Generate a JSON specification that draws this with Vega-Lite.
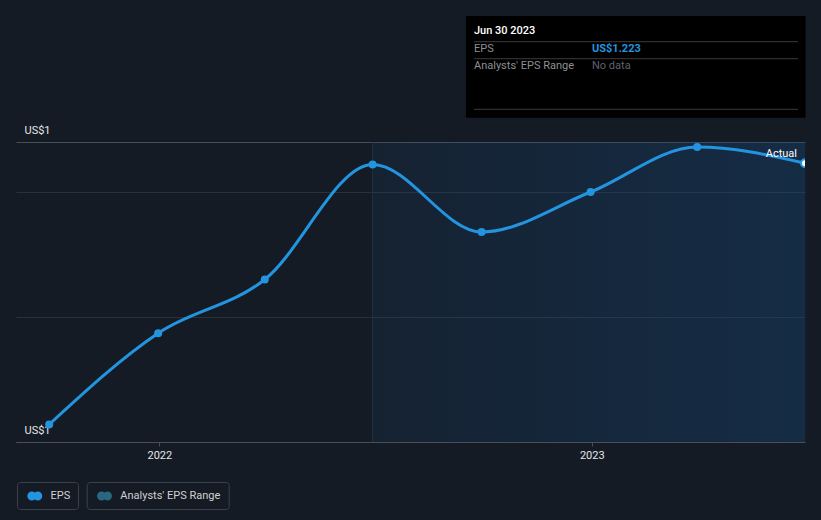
{
  "$schema": "https://vega.github.io/schema/vega-lite/v6.json",
  "width": 789,
  "height": 300,
  "autosize": {"type": "none"},
  "padding": {"left": 16, "top": 142, "right": 16, "bottom": 78},
  "background": "#151b24",
  "config": {
    "view": {"stroke": null, "fill": "#11161e"},
    "font": "Roboto"
  },
  "datasets": {
    "eps": [
      {"date": "2021-09-30", "eps": 1.014, "series": "EPS"},
      {"date": "2021-12-31", "eps": 1.087, "series": "EPS"},
      {"date": "2022-03-31", "eps": 1.130, "series": "EPS"},
      {"date": "2022-06-30", "eps": 1.222, "series": "EPS"},
      {"date": "2022-09-30", "eps": 1.168, "series": "EPS"},
      {"date": "2022-12-31", "eps": 1.200, "series": "EPS"},
      {"date": "2023-03-31", "eps": 1.236, "series": "EPS"},
      {"date": "2023-06-30", "eps": 1.223, "series": "EPS", "label": "Actual"}
    ],
    "panel": [
      {"row": 0, "col": 0, "text": "Jun 30 2023", "kind": "head"},
      {"row": 1, "col": 0, "text": "EPS", "kind": "label"},
      {"row": 1, "col": 1, "text": "US$1.223", "kind": "value"},
      {"row": 2, "col": 0, "text": "Analysts' EPS Range", "kind": "label"},
      {"row": 2, "col": 1, "text": "No data", "kind": "none"}
    ],
    "rangeSeries": [{"series": "Analysts' EPS Range"}],
    "period": [{"start": "2022-06-30", "end": "2023-06-30"}]
  },
  "layer": [
    {
      "layer": [
        {
          "data": {"name": "period"},
          "mark": {
            "type": "rect",
            "color": {
              "gradient": "linear", "x1": 0, "y1": 0, "x2": 1, "y2": 0,
              "stops": [{"offset": 0, "color": "rgba(21,70,120,0.16)"}, {"offset": 1, "color": "rgba(21,70,120,0.40)"}]
            }
          },
          "encoding": {
            "x": {"field": "start", "type": "temporal"},
            "x2": {"field": "end"}
          }
        },
        {
          "data": {"name": "period"},
          "mark": {"type": "rule", "color": "#1d3246", "strokeWidth": 1},
          "encoding": {"x": {"field": "start", "type": "temporal"}}
        },
        {
          "data": {"name": "eps"},
          "mark": {"type": "line", "interpolate": "monotone", "strokeWidth": 3, "color": "#2394df"},
          "encoding": {
            "x": {
              "field": "date", "type": "temporal",
              "scale": {"type": "utc", "domain": [{"year": 2021, "month": 9, "date": 2, "utc": true}, {"year": 2023, "month": 6, "date": 30, "utc": true}]},
              "axis": {
                "title": null, "tickCount": {"interval": "year", "step": 1}, "format": "%Y", "formatType": "utc",
                "grid": false, "domainColor": "#4a4f57", "tickColor": "#4a4f57", "tickSize": 4,
                "labelColor": "#e6e6e6", "labelFontSize": 11, "labelFont": "Roboto", "labelPadding": 3, "labelFlush": false
              }
            },
            "y": {
              "field": "eps", "type": "quantitative",
              "scale": {"domain": [1.0, 1.24], "nice": false, "zero": false},
              "axis": {
                "title": null, "values": [1.0, 1.1, 1.2, 1.24], "domain": false, "ticks": false, "tickSize": 0,
                "labelExpr": "datum.value < 1.01 || datum.value > 1.23 ? 'US$1' : ''",
                "labelAlign": "left", "labelPadding": -8, "labelBaseline": "bottom", "labelOffset": -7,
                "labelColor": "#e6e6e6", "labelFontSize": 11, "labelFont": "Roboto", "labelFlush": false, "labelOverlap": false, "labelBound": false,
                "gridColor": {"condition": {"test": "datum.value > 1.23 || datum.value < 1.01", "value": "#4a4f57"}, "value": "#2b313a"}
              }
            }
          }
        },
        {
          "data": {"name": "eps"},
          "mark": {"type": "circle", "size": 64, "opacity": 1, "clip": true},
          "encoding": {
            "x": {"field": "date", "type": "temporal"},
            "y": {"field": "eps", "type": "quantitative"},
            "color": {
              "field": "series", "type": "nominal",
              "scale": {"domain": ["EPS"], "range": ["#2394df"]},
              "legend": {
                "title": null, "orient": "none", "legendX": 1, "legendY": 340,
                "strokeColor": "#3b414a", "cornerRadius": 3, "padding": 7.5, "symbolOffset": 3.8,
                "symbolType": "M -1.15 0 A 0.69 0.69 0 1 0 0.23 0 A 0.69 0.69 0 1 0 -1.15 0 Z M -0.23 0 A 0.69 0.69 0 1 0 1.15 0 A 0.69 0.69 0 1 0 -0.23 0 Z",
                "symbolSize": 169, "symbolStrokeWidth": 0, "symbolOpacity": 1,
                "labelOffset": 9.3, "labelColor": "#d0d0d0", "labelFontSize": 11, "labelFont": "Roboto",
                "encode": {"symbols": {"update": {
                  "fill": {"value": {"gradient": "linear", "x1": 0, "y1": 0, "x2": 1, "y2": 0, "stops": [{"offset": 0, "color": "#2394df"}, {"offset": 0.4, "color": "#2394df"}, {"offset": 0.4, "color": "#6fe3d8"}, {"offset": 1, "color": "#6fe3d8"}]}},
                  "stroke": {"value": "transparent"}
                }}}
              }
            }
          }
        },
        {
          "data": {"name": "eps"},
          "transform": [{"filter": "isValid(datum.label)"}],
          "mark": {"type": "point", "filled": true, "size": 64, "fill": "#ffffff", "stroke": "#2394df", "strokeWidth": 2, "opacity": 1, "clip": true},
          "encoding": {
            "x": {"field": "date", "type": "temporal"},
            "y": {"field": "eps", "type": "quantitative"}
          }
        },
        {
          "data": {"name": "eps"},
          "transform": [{"filter": "isValid(datum.label)"}],
          "mark": {"type": "text", "align": "right", "baseline": "middle", "dx": -8, "dy": -9, "color": "#ffffff", "fontSize": 11, "font": "Roboto"},
          "encoding": {
            "x": {"field": "date", "type": "temporal"},
            "y": {"field": "eps", "type": "quantitative"},
            "text": {"field": "label"}
          }
        },
        {
          "data": {"name": "rangeSeries"},
          "mark": {"type": "point", "filled": true, "opacity": 0},
          "encoding": {
            "fill": {
              "field": "series", "type": "nominal",
              "scale": {"domain": ["Analysts' EPS Range"], "range": ["#2b6680"]},
              "legend": {
                "title": null, "orient": "none", "legendX": 70.7, "legendY": 340,
                "strokeColor": "#3b414a", "cornerRadius": 3, "padding": 7.5, "symbolOffset": 3.8,
                "symbolType": "M -1.15 0 A 0.69 0.69 0 1 0 0.23 0 A 0.69 0.69 0 1 0 -1.15 0 Z M -0.23 0 A 0.69 0.69 0 1 0 1.15 0 A 0.69 0.69 0 1 0 -0.23 0 Z",
                "symbolSize": 169, "symbolStrokeWidth": 0, "symbolOpacity": 1,
                "labelOffset": 9.3, "labelColor": "#d0d0d0", "labelFontSize": 11, "labelFont": "Roboto",
                "encode": {"symbols": {"update": {
                  "fill": {"value": {"gradient": "linear", "x1": 0, "y1": 0, "x2": 1, "y2": 0, "stops": [{"offset": 0, "color": "#21577f"}, {"offset": 0.4, "color": "#21577f"}, {"offset": 0.4, "color": "#3b7f7e"}, {"offset": 1, "color": "#3b7f7e"}]}},
                  "stroke": {"value": "transparent"}
                }}}
              }
            }
          }
        }
      ]
    },
    {
      "layer": [
        {
          "data": {"values": [{}]},
          "mark": {"type": "rect", "color": "#000000"},
          "encoding": {
            "x": {"datum": -0.068, "type": "quantitative", "scale": {"domain": [0, 1], "range": [458, 576], "nice": false, "zero": false}, "axis": null},
            "x2": {"datum": 2.81},
            "y": {"datum": -0.874, "type": "quantitative", "scale": {"domain": [0, 1], "range": [-110.7, -93.2], "nice": false, "zero": false}, "axis": null},
            "y2": {"datum": 4.94}
          }
        },
        {
          "data": {"values": [{}]},
          "mark": {"type": "rule", "color": "#3a3a3a", "strokeWidth": 1},
          "encoding": {
            "x": {"datum": 0, "type": "quantitative", "axis": null},
            "x2": {"datum": 2.746},
            "y": {"datum": 0.594, "type": "quantitative", "axis": null}
          }
        },
        {
          "data": {"values": [{}]},
          "mark": {"type": "rule", "color": "#3a3a3a", "strokeWidth": 1},
          "encoding": {
            "x": {"datum": 0, "type": "quantitative", "axis": null},
            "x2": {"datum": 2.746},
            "y": {"datum": 1.566, "type": "quantitative", "axis": null}
          }
        },
        {
          "data": {"values": [{}]},
          "mark": {"type": "rule", "color": "#3a3a3a", "strokeWidth": 1},
          "encoding": {
            "x": {"datum": 0, "type": "quantitative", "axis": null},
            "x2": {"datum": 2.746},
            "y": {"datum": 4.457, "type": "quantitative", "axis": null}
          }
        },
        {
          "data": {"name": "panel"},
          "transform": [{"filter": "datum.kind == 'head'"}],
          "mark": {"type": "text", "align": "left", "baseline": "middle", "color": "#ffffff", "fontSize": 11, "fontWeight": 500},
          "encoding": {
            "x": {"field": "col", "type": "quantitative", "axis": null},
            "y": {"field": "row", "type": "quantitative", "axis": null},
            "text": {"field": "text"}
          }
        },
        {
          "data": {"name": "panel"},
          "transform": [{"filter": "datum.kind == 'label'"}],
          "mark": {"type": "text", "align": "left", "baseline": "middle", "color": "#8c8f94", "fontSize": 11},
          "encoding": {
            "x": {"field": "col", "type": "quantitative", "axis": null},
            "y": {"field": "row", "type": "quantitative", "axis": null},
            "text": {"field": "text"}
          }
        },
        {
          "data": {"name": "panel"},
          "transform": [{"filter": "datum.kind == 'value'"}],
          "mark": {"type": "text", "align": "left", "baseline": "middle", "color": "#2394df", "fontSize": 11, "fontWeight": "bold"},
          "encoding": {
            "x": {"field": "col", "type": "quantitative", "axis": null},
            "y": {"field": "row", "type": "quantitative", "axis": null},
            "text": {"field": "text"}
          }
        },
        {
          "data": {"name": "panel"},
          "transform": [{"filter": "datum.kind == 'none'"}],
          "mark": {"type": "text", "align": "left", "baseline": "middle", "color": "#5f6369", "fontSize": 11},
          "encoding": {
            "x": {"field": "col", "type": "quantitative", "axis": null},
            "y": {"field": "row", "type": "quantitative", "axis": null},
            "text": {"field": "text"}
          }
        }
      ]
    }
  ],
  "resolve": {"scale": {"x": "independent", "y": "independent"}}
}
